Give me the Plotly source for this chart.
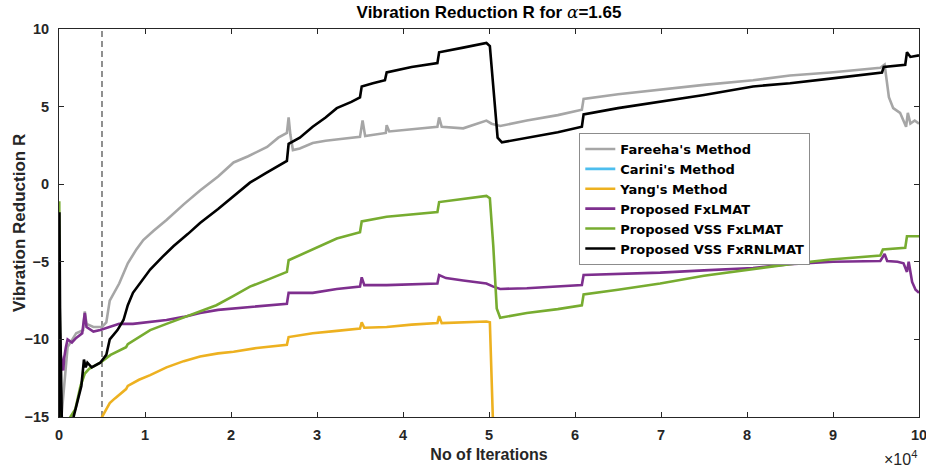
import plotly.graph_objects as go

# Iteration axis is stored in units of 1e4 iterations
SCALE = 1e4

# ---- Fareeha's Method ----
fareeha_x = [0.02, 0.1, 0.2, 0.28, 0.3, 0.32, 0.4, 0.5, 0.55, 0.59, 0.7, 0.8, 0.9, 0.98, 1.1, 1.25,
             1.45, 1.64, 1.85, 2.03, 2.2, 2.42, 2.55, 2.65, 2.67, 2.69, 2.72, 2.8, 2.95, 3.1, 3.25,
             3.5, 3.53, 3.56, 3.8, 3.81, 3.84, 4.1, 4.4, 4.42, 4.45, 4.7, 4.97, 5.03, 5.13, 5.44,
             5.8, 6.08, 6.1, 6.5, 6.99, 7.5, 8.07, 8.5, 8.97, 9.55, 9.6, 9.62, 9.65, 9.7, 9.78,
             9.85, 9.87, 9.9, 9.95, 10.0]
fareeha_y = [-15.5, -10.5, -9.6, -9.4, -8.2, -9.0, -9.2, -9.2, -8.9, -7.5, -6.4, -5.1, -4.2, -3.6, -3.0, -2.3,
             -1.3, -0.4, 0.5, 1.4, 1.8, 2.4, 3.0, 3.3, 4.3, 3.2, 2.2, 2.3, 2.65, 2.8, 2.9,
             3.05, 4.1, 3.1, 3.3, 3.8, 3.4, 3.55, 3.7, 4.3, 3.7, 3.6, 4.1, 3.9, 3.75, 4.1,
             4.45, 4.8, 5.5, 5.8, 6.1, 6.4, 6.7, 7.0, 7.2, 7.5, 7.7, 6.8, 5.6, 4.9, 4.6,
             3.7, 4.6, 3.9, 4.1, 3.9]

# ---- Carini's Method (diverged, below the plotted range) ----
carini_x = [0.0, 2.0, 4.0, 6.0, 8.0, 10.0]
carini_y = [-21.0, -21.5, -22.0, -22.0, -22.5, -22.5]

# ---- Yang's Method ----
yang_x = [0.48, 0.5, 0.59, 0.65, 0.78, 0.8, 0.93, 1.06, 1.25, 1.45, 1.64, 1.85, 2.03, 2.3, 2.65, 2.67,
          2.95, 3.23, 3.5, 3.52, 3.55, 3.81, 4.1, 4.4, 4.42, 4.45, 4.7, 4.97, 5.01, 5.03, 5.05]
yang_y = [-15.2, -15.0, -14.1, -13.8, -13.2, -13.0, -12.6, -12.3, -11.8, -11.4, -11.1, -10.9, -10.8, -10.55, -10.35, -9.85,
          -9.6, -9.45, -9.3, -8.9, -9.25, -9.2, -9.05, -8.95, -8.5, -8.95, -8.9, -8.85, -8.9, -12.0, -16.0]

# ---- Proposed FxLMAT ----
fxlmat_x = [0.0, 0.01, 0.02, 0.05, 0.06, 0.08, 0.1, 0.15, 0.2, 0.27, 0.3, 0.32, 0.4, 0.48, 0.6, 0.7,
            0.86, 1.06, 1.25, 1.45, 1.64, 1.85, 2.03, 2.3, 2.65, 2.67, 2.95, 3.23, 3.5, 3.52, 3.55,
            3.81, 4.1, 4.4, 4.42, 4.5, 4.7, 4.85, 4.97, 5.05, 5.13, 5.44, 5.8, 6.08, 6.1, 6.5,
            6.99, 7.5, 8.07, 8.5, 9.0, 9.55, 9.6, 9.63, 9.75, 9.82, 9.86, 9.88, 9.92, 9.96, 10.0]
fxlmat_y = [-8.5, -9.5, -11.0, -12.0, -11.2, -10.5, -10.0, -10.2, -9.9, -9.6, -8.3, -9.2, -9.5, -9.4, -9.2, -9.0,
            -9.0, -8.85, -8.75, -8.55, -8.3, -8.1, -8.0, -7.85, -7.7, -7.0, -7.0, -6.75, -6.6, -6.0, -6.5,
            -6.5, -6.45, -6.4, -5.85, -6.05, -6.2, -6.3, -6.4, -6.6, -6.75, -6.7, -6.6, -6.5, -5.85, -5.8,
            -5.7, -5.55, -5.4, -5.15, -5.0, -4.95, -4.5, -4.95, -5.0, -5.1, -5.65, -5.0, -6.3, -6.8, -7.0]

# ---- Proposed VSS FxLMAT ----
vss_x = [0.0, 0.003, 0.008, 0.015, 0.19, 0.25, 0.3, 0.35, 0.48, 0.6, 0.67, 0.78, 0.8, 1.06, 1.25, 1.45,
         1.64, 1.83, 2.03, 2.22, 2.45, 2.65, 2.67, 2.95, 3.23, 3.5, 3.52, 3.81, 4.1, 4.4, 4.42, 4.7,
         4.97, 5.01, 5.05, 5.09, 5.13, 5.44, 5.8, 6.08, 6.1, 6.5, 6.99, 7.5, 8.07, 8.5, 8.97, 9.55,
         9.58, 9.84, 9.86, 10.0]
vss_y = [-16.0, -1.1, -8.0, -16.0, -14.5, -13.0, -12.2, -11.9, -11.5, -11.0, -10.8, -10.5, -10.3, -9.4, -9.0, -8.6,
         -8.2, -7.8, -7.2, -6.6, -6.1, -5.65, -4.9, -4.2, -3.5, -3.1, -2.4, -2.1, -1.95, -1.8, -1.15, -0.95,
         -0.75, -0.9, -4.0, -8.0, -8.6, -8.3, -8.05, -7.8, -7.1, -6.8, -6.4, -5.9, -5.45, -5.15, -4.85, -4.6,
         -4.2, -4.1, -3.35, -3.35]

# ---- Proposed VSS FxRNLMAT ----
rnl_x = [0.0, 0.005, 0.012, 0.02, 0.035, 0.16, 0.22, 0.26, 0.29, 0.31, 0.33, 0.38, 0.48, 0.55, 0.59, 0.68,
         0.75, 0.8, 0.86, 0.95, 1.06, 1.2, 1.33, 1.5, 1.64, 1.85, 2.03, 2.22, 2.4, 2.6, 2.65, 2.67,
         2.8, 2.95, 3.1, 3.23, 3.4, 3.5, 3.52, 3.65, 3.79, 3.81, 4.1, 4.4, 4.42, 4.7, 4.97, 5.01,
         5.05, 5.1, 5.15, 5.44, 5.8, 6.08, 6.1, 6.5, 6.99, 7.5, 8.07, 8.5, 8.97, 9.57, 9.59, 9.84,
         9.86, 9.9, 10.0]
rnl_y = [-16.0, -1.8, -8.0, -10.5, -16.0, -15.2, -13.8, -13.0, -11.3, -11.8, -11.5, -11.8, -11.5, -11.0, -10.0, -9.4,
         -8.75, -7.8, -7.0, -6.3, -5.5, -4.7, -4.0, -3.2, -2.5, -1.6, -0.8, 0.1, 0.7, 1.35, 1.5, 2.6,
         3.0, 3.7, 4.3, 4.9, 5.3, 5.6, 6.3, 6.5, 6.7, 7.2, 7.55, 7.8, 8.5, 8.8, 9.1, 8.9,
         6.0, 3.0, 2.7, 3.0, 3.35, 3.7, 4.5, 4.9, 5.3, 5.75, 6.3, 6.5, 6.8, 7.2, 7.55, 7.7,
         8.5, 8.2, 8.3]

series = [
    ("Fareeha's Method", fareeha_x, fareeha_y, "#a6a6a6"),
    ("Carini's Method", carini_x, carini_y, "#4dbeee"),
    ("Yang's Method", yang_x, yang_y, "#edb120"),
    ("Proposed FxLMAT", fxlmat_x, fxlmat_y, "#7e2f8e"),
    ("Proposed VSS FxLMAT", vss_x, vss_y, "#77ac30"),
    ("Proposed VSS FxRNLMAT", rnl_x, rnl_y, "#000000"),
]

x_ticks = [0, 1, 2, 3, 4, 5, 6, 7, 8, 9, 10]
y_ticks = [-15, -10, -5, 0, 5, 10]
marker_iter = 0.5  # dashed reference line position (x1e4 iterations)

FONT = "Liberation Sans, Arial, Helvetica, sans-serif"
LEG_FONT = "DejaVu Sans, Liberation Sans, Arial, sans-serif"
AXC = "#262626"

fig = go.Figure()
for name, xs, ys, col in series:
    fig.add_trace(go.Scatter(
        x=[v * SCALE for v in xs], y=ys, name=name, mode="lines",
        line=dict(color=col, width=2.6),
    ))

fig.add_shape(type="line", xref="x", yref="y",
              x0=marker_iter * SCALE, x1=marker_iter * SCALE, y0=y_ticks[0], y1=y_ticks[-1],
              line=dict(color="#555555", width=1.3, dash="6px,4px"), layer="below")

fig.update_xaxes(
    range=[x_ticks[0] * SCALE, x_ticks[-1] * SCALE], automargin=False,
    tickvals=[t * SCALE for t in x_ticks], ticktext=[str(t) for t in x_ticks],
    ticks="inside", ticklen=5, tickcolor=AXC, tickwidth=1,
    showline=True, linecolor=AXC, linewidth=1, mirror="allticks",
    showgrid=False, zeroline=False, ticklabelstandoff=5, ticklabeloverflow="allow",
    tickfont=dict(family=FONT, size=14.5, color=AXC, weight="bold"),
    title=dict(text="No of Iterations", standoff=6,
               font=dict(family=FONT, size=16, color=AXC, weight="bold")),
)
fig.update_yaxes(
    range=[y_ticks[0], y_ticks[-1]], tickvals=y_ticks, automargin=False,
    ticks="inside", ticklen=5, tickcolor=AXC, tickwidth=1,
    showline=True, linecolor=AXC, linewidth=1, mirror="allticks",
    showgrid=False, zeroline=False, ticklabelstandoff=6, ticklabeloverflow="allow",
    tickfont=dict(family=FONT, size=14.5, color=AXC, weight="bold"),
)

# y-axis title, placed just left of the tick labels
fig.add_annotation(xref="paper", yref="paper", x=-0.0465, y=0.5,
                   xanchor="center", yanchor="middle", textangle=-90, showarrow=False,
                   text="Vibration Reduction R",
                   font=dict(family=FONT, size=17, color=AXC, weight="bold"))

fig.add_annotation(xref="paper", yref="paper", x=1.0, y=-0.105,
                   xanchor="right", yanchor="middle", showarrow=False,
                   text="×10<sup>4</sup>",
                   font=dict(family=FONT, size=16, color=AXC))

fig.update_layout(
    width=926, height=470,
    margin=dict(l=59, r=7, t=29, b=53, autoexpand=False),
    paper_bgcolor="white", plot_bgcolor="white",
    title=dict(
        text="Vibration Reduction R for <span style=\"font-family:'DejaVu Serif';font-weight:normal\"><i>α</i></span>=1.65",
        x=0.5, xref="paper", xanchor="center", y=0.974, yref="container", yanchor="middle",
        font=dict(family=FONT, size=17, color="#000000", weight="bold"),
    ),
    legend=dict(
        x=0.605, y=0.732, xanchor="left", yanchor="top",
        bgcolor="white", bordercolor="#8c8c8c", borderwidth=1,
        font=dict(family=LEG_FONT, size=13, color="#000000", weight="bold"),
        tracegroupgap=0, entrywidth=236, entrywidthmode="pixels",
    ),
    showlegend=True,
)

fig.write_html("out.html")
